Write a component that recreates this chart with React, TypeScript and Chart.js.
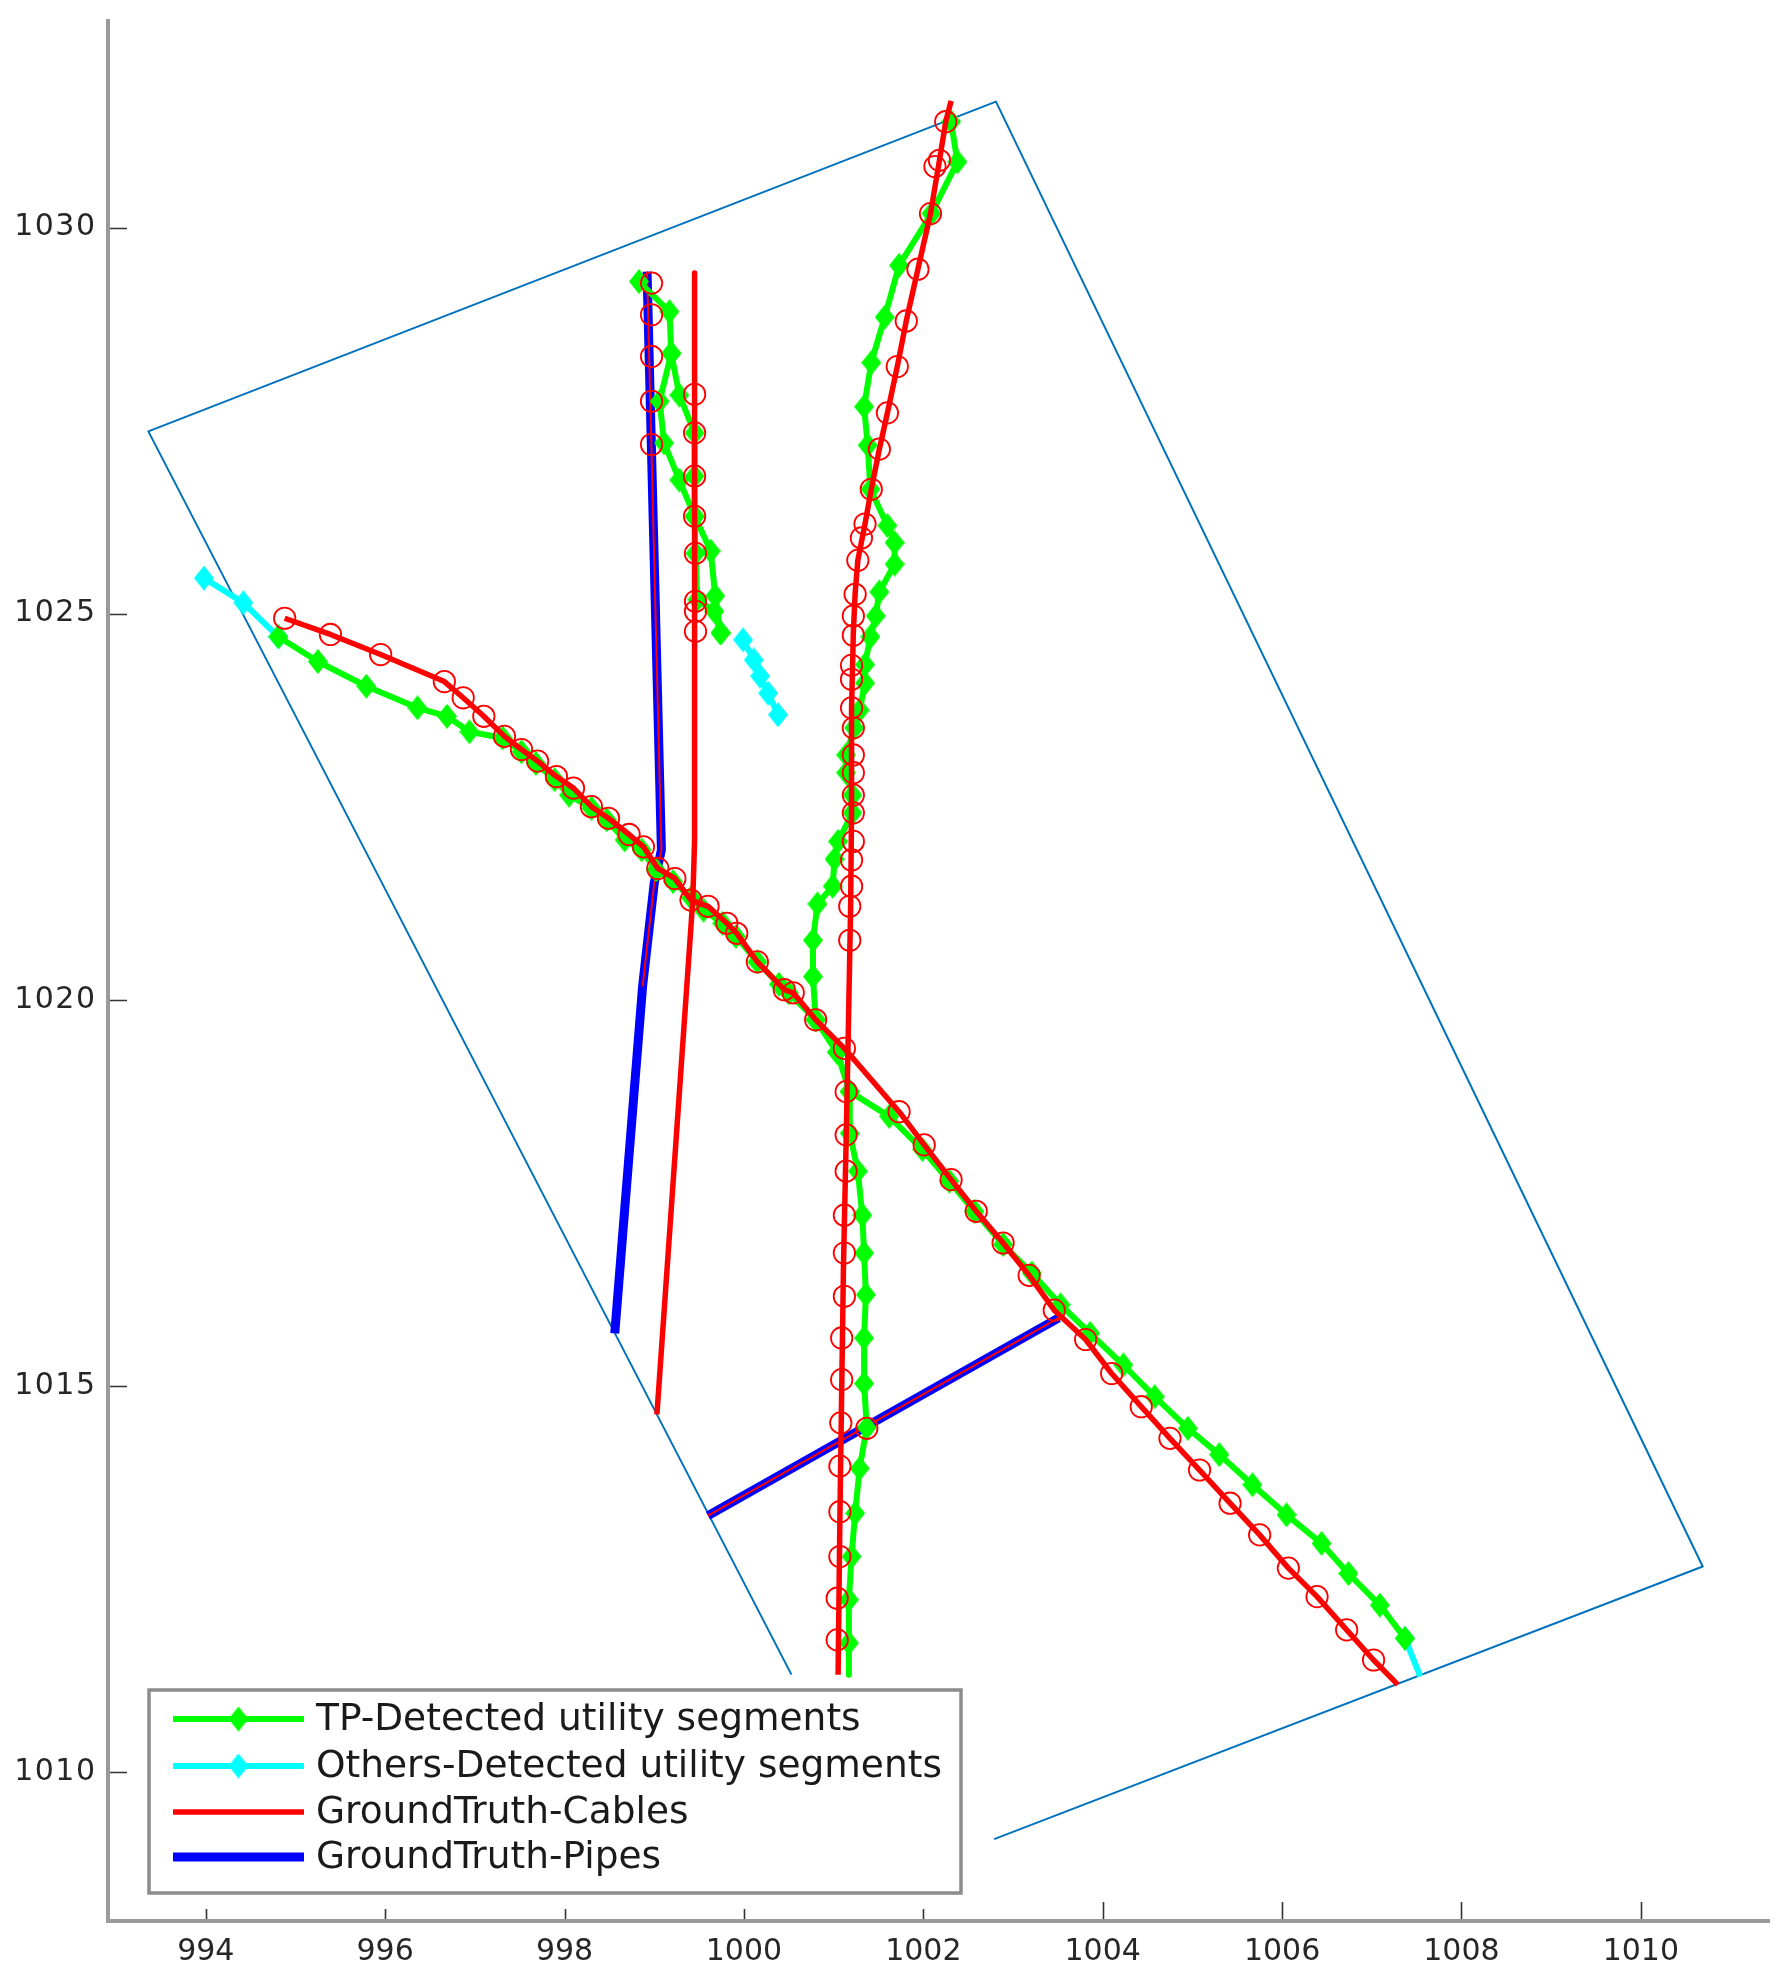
import React, { useEffect, useRef } from "react";
import { Chart, registerables } from "chart.js";

Chart.register(...registerables);

type Pt = [number, number];

// ---------- axes ----------
const X_TICKS = [994, 996, 998, 1000, 1002, 1004, 1006, 1008, 1010];
const Y_TICKS = [1010, 1015, 1020, 1025, 1030];
const X_LIMITS = [992.91, 1011.44];
const Y_LIMITS = [1008.07, 1032.7];

const LEGEND_LABELS = [
  "TP-Detected utility segments",
  "Others-Detected utility segments",
  "GroundTruth-Cables",
  "GroundTruth-Pipes",
];

// ---------- survey area outline ----------
const surveyArea: Pt[] = [
  [1000.53, 1011.26], [993.36, 1027.36], [1002.81, 1031.63], [1010.69, 1012.66], [1002.79, 1009.13],
];

// ---------- others-detected segments ----------
const othersWest: Pt[] = [[993.98, 1025.46], [994.42, 1025.14], [994.81, 1024.7]];
const othersMid: Pt[] = [
  [999.99, 1024.66], [1000.11, 1024.4], [1000.18, 1024.19], [1000.27, 1023.97], [1000.38, 1023.69],
];
const othersEast: Pt[] = [[1007.37, 1011.73], [1007.54, 1011.24]];

// ---------- TP-detected segments ----------
const tpDiagonal: Pt[] = [
  [994.81, 1024.7], [995.25, 1024.38], [995.79, 1024.06], [996.36, 1023.78], [996.69, 1023.67],
  [996.94, 1023.47], [997.31, 1023.39], [997.52, 1023.21], [997.68, 1023.06], [997.89, 1022.85],
  [998.05, 1022.65], [998.3, 1022.48], [998.47, 1022.33], [998.67, 1022.07], [998.86, 1021.94],
  [999.02, 1021.68], [999.21, 1021.53], [999.41, 1021.32], [999.55, 1021.16], [999.76, 1020.99],
  [999.91, 1020.82], [1000.15, 1020.49], [1000.39, 1020.2], [1000.5, 1020.09], [1000.8, 1019.74],
  [1001.04, 1019.32], [1001.18, 1018.81], [1001.62, 1018.49], [1001.99, 1018.06], [1002.29, 1017.65],
  [1002.57, 1017.26], [1002.89, 1016.83], [1003.21, 1016.46], [1003.53, 1016.05], [1003.86, 1015.68],
  [1004.23, 1015.27], [1004.58, 1014.86], [1004.95, 1014.45], [1005.3, 1014.11], [1005.67, 1013.72],
  [1006.05, 1013.33], [1006.44, 1012.96], [1006.74, 1012.57], [1007.09, 1012.16], [1007.37, 1011.73],
];
const tpEast: Pt[] = [
  [1002.31, 1031.37], [1002.38, 1030.85], [1002.09, 1030.18], [1001.73, 1029.51], [1001.57, 1028.84],
  [1001.42, 1028.25], [1001.34, 1027.68], [1001.38, 1027.18], [1001.41, 1026.61], [1001.6, 1026.14],
  [1001.68, 1025.92], [1001.68, 1025.64], [1001.51, 1025.28], [1001.47, 1024.97], [1001.41, 1024.7],
  [1001.35, 1024.34], [1001.35, 1024.1], [1001.29, 1023.75], [1001.23, 1023.52], [1001.14, 1023.17],
  [1001.14, 1022.94], [1001.21, 1022.65], [1001.21, 1022.42], [1001.05, 1022.05], [1001.01, 1021.82],
  [1000.99, 1021.47], [1000.82, 1021.24], [1000.77, 1020.77], [1000.77, 1020.3], [1000.8, 1019.74],
  [1001.04, 1019.32], [1001.18, 1018.81], [1001.18, 1018.27], [1001.27, 1017.78], [1001.32, 1017.21],
  [1001.34, 1016.72], [1001.36, 1016.18], [1001.34, 1015.62], [1001.34, 1015.03], [1001.37, 1014.46],
  [1001.29, 1013.93], [1001.24, 1013.35], [1001.2, 1012.79], [1001.17, 1012.23], [1001.17, 1011.67],
  [1001.17, 1011.26],
];
const tpWestA: Pt[] = [
  [998.83, 1029.3], [999.17, 1028.91], [999.19, 1028.37], [999.06, 1027.75], [999.11, 1027.21],
  [999.28, 1026.73], [999.45, 1026.26], [999.63, 1025.81], [999.68, 1025.23], [999.74, 1024.75],
];
const tpWestB: Pt[] = [
  [999.19, 1028.37], [999.28, 1027.83], [999.45, 1027.34], [999.45, 1026.78], [999.45, 1026.26],
  [999.46, 1025.78], [999.48, 1025.18], [999.67, 1025.03], [999.74, 1024.75],
];

// ---------- ground truth cables ----------
const cableDiagonal: Pt[] = [
  [994.88, 1024.94], [995.39, 1024.73], [995.95, 1024.47], [996.66, 1024.12], [996.87, 1023.91],
  [997.1, 1023.67], [997.33, 1023.41], [997.52, 1023.24], [997.7, 1023.09], [997.91, 1022.89],
  [998.1, 1022.74], [998.3, 1022.5], [998.49, 1022.35], [998.72, 1022.14], [998.88, 1021.98],
  [999.04, 1021.7], [999.23, 1021.57], [999.41, 1021.29], [999.6, 1021.21], [999.81, 1020.99],
  [999.92, 1020.86], [1000.15, 1020.49], [1000.45, 1020.13], [1000.55, 1020.09], [1000.8, 1019.74],
  [1001.12, 1019.37], [1001.73, 1018.55], [1002.01, 1018.12], [1002.31, 1017.67], [1002.59, 1017.26],
  [1002.89, 1016.85], [1003.18, 1016.43], [1003.46, 1015.98], [1003.81, 1015.6], [1004.1, 1015.16],
  [1004.43, 1014.73], [1004.75, 1014.32], [1005.08, 1013.91], [1005.42, 1013.48], [1005.75, 1013.07],
  [1006.07, 1012.64], [1006.39, 1012.27], [1006.72, 1011.84], [1007.02, 1011.45], [1007.29, 1011.13],
];
const cableEast: Pt[] = [
  [1002.31, 1031.64], [1002.25, 1031.37], [1002.18, 1030.87], [1002.08, 1030.18], [1001.94, 1029.46],
  [1001.81, 1028.79], [1001.71, 1028.2], [1001.6, 1027.6], [1001.51, 1027.13], [1001.42, 1026.61],
  [1001.35, 1026.16], [1001.27, 1025.69], [1001.24, 1025.26], [1001.22, 1024.76], [1001.2, 1023.77],
  [1001.2, 1022.46], [1001.19, 1021.22], [1001.16, 1019.35], [1001.14, 1018.2], [1001.11, 1016.56],
  [1001.09, 1014.93], [1001.07, 1013.29], [1001.05, 1011.26],
];
const cableWest: Pt[] = [[999.45, 1029.41], [999.45, 1022.07], [999.43, 1021.29], [999.03, 1014.63]];
const cableInPipe: Pt[] = [[998.92, 1029.43], [999.08, 1021.94], [999.0, 1021.51], [998.87, 1020.17]];

// ---------- matched points on ground truth ----------
const matchesDiagonal: Pt[] = cableDiagonal.slice(0, -1);
const matchesEast: Pt[] = [
  [1002.25, 1031.37], [1002.18, 1030.87], [1002.13, 1030.79], [1002.08, 1030.18], [1001.94, 1029.46],
  [1001.81, 1028.79], [1001.71, 1028.2], [1001.6, 1027.6], [1001.51, 1027.13], [1001.42, 1026.61],
  [1001.35, 1026.16], [1001.31, 1025.98], [1001.27, 1025.69], [1001.24, 1025.25], [1001.22, 1024.97],
  [1001.22, 1024.72], [1001.2, 1024.33], [1001.2, 1024.15], [1001.2, 1023.78], [1001.22, 1023.52],
  [1001.22, 1023.17], [1001.22, 1022.94], [1001.22, 1022.65], [1001.22, 1022.42], [1001.22, 1022.05],
  [1001.2, 1021.81], [1001.2, 1021.47], [1001.18, 1021.21], [1001.18, 1020.77], [1001.14, 1018.81],
  [1001.14, 1018.25], [1001.14, 1017.78], [1001.12, 1017.21], [1001.12, 1016.72], [1001.12, 1016.16],
  [1001.09, 1015.62], [1001.09, 1015.08], [1001.08, 1014.52], [1001.07, 1013.96], [1001.07, 1013.37],
  [1001.07, 1012.79], [1001.04, 1012.25], [1001.04, 1011.71], [1001.37, 1014.45],
];
const matchesWest: Pt[] = [
  [999.45, 1027.84], [999.45, 1027.34], [999.45, 1026.78], [999.45, 1026.26], [999.46, 1025.78],
  [999.46, 1025.16], [999.46, 1025.03], [999.46, 1024.77],
];
const matchesPipe: Pt[] = [
  [998.97, 1029.28], [998.97, 1028.87], [998.97, 1028.33], [998.97, 1027.75], [998.97, 1027.19],
];

// ---------- ground truth pipes ----------
const pipeNorth: Pt[] = [[998.92, 1029.43], [999.08, 1021.94], [999.0, 1021.51], [998.87, 1020.17], [998.56, 1015.68]];
const pipeCross: Pt[] = [[999.6, 1013.32], [1003.51, 1015.88]];

// ---------- styling ----------
const GREEN = "#00ff00";
const CYAN = "#00ffff";
const RED = "#ff0000";
const BLUE = "#0000ff";
const OUTLINE = "#0072bd";

const toXY = (pts: Pt[]) => pts.map(([x, y]) => ({ x, y }));

function makeDiamond(color: string, w: number, h: number) {
  const c = document.createElement("canvas");
  c.width = w;
  c.height = h;
  const g = c.getContext("2d")!;
  g.fillStyle = color;
  g.beginPath();
  g.moveTo(w / 2, 0);
  g.lineTo(w, h / 2);
  g.lineTo(w / 2, h);
  g.lineTo(0, h / 2);
  g.closePath();
  g.fill();
  return c;
}

export default function App() {
  const ref = useRef<HTMLCanvasElement | null>(null);

  useEffect(() => {
    if (!ref.current) return;
    const greenMark = makeDiamond(GREEN, 20, 25);
    const cyanMark = makeDiamond(CYAN, 20, 25);

    const line = (pts: Pt[], color: string, width: number, order: number) => ({
      data: toXY(pts),
      showLine: true,
      borderColor: color,
      backgroundColor: color,
      borderWidth: width,
      pointRadius: 0,
      borderJoinStyle: "round",
      order,
    });
    const detected = (pts: Pt[], color: string, mark: HTMLCanvasElement, order: number, tailless = false) => ({
      data: toXY(pts),
      showLine: true,
      borderColor: color,
      backgroundColor: color,
      borderWidth: 6,
      borderJoinStyle: "round",
      pointStyle: mark,
      pointRadius: (c: any) => (tailless && c.dataIndex === pts.length - 1 ? 0 : 10),
      order,
    });
    const circles = (pts: Pt[]) => ({
      data: toXY(pts),
      showLine: false,
      pointStyle: "circle",
      pointRadius: 10.7,
      pointBorderWidth: 1.8,
      pointBorderColor: RED,
      pointBackgroundColor: "rgba(0,0,0,0)",
      order: 1,
    });

    const decor = {
      id: "matlabDecor",
      afterDraw(chart: any) {
        const ctx: CanvasRenderingContext2D = chart.ctx;
        const { left, right, top, bottom } = chart.chartArea;
        const xs = chart.scales.x;
        const ys = chart.scales.y;
        ctx.save();
        // axis lines
        ctx.strokeStyle = "#9a9a9a";
        ctx.lineWidth = 4;
        ctx.beginPath();
        ctx.moveTo(left, top);
        ctx.lineTo(left, bottom);
        ctx.lineTo(right, bottom);
        ctx.stroke();
        // inward ticks
        ctx.strokeStyle = "#333333";
        ctx.lineWidth = 1.6;
        ctx.beginPath();
        for (const v of Y_TICKS) {
          const p = Math.round(ys.getPixelForValue(v)) + 0.5;
          ctx.moveTo(left + 2, p);
          ctx.lineTo(left + 19, p);
        }
        for (const v of X_TICKS) {
          const p = Math.round(xs.getPixelForValue(v)) + 0.5;
          const len = p < 965 ? 12 : 19;
          ctx.moveTo(p, bottom - 2);
          ctx.lineTo(p, bottom - len);
        }
        ctx.stroke();
        // y tick labels (slightly spaced digits)
        ctx.fillStyle = "#262626";
        ctx.font = "30px 'DejaVu Sans'";
        ctx.textAlign = "right";
        ctx.textBaseline = "middle";
        (ctx as any).letterSpacing = "1.5px";
        for (const v of Y_TICKS) {
          ctx.fillText(String(v), 96.5, ys.getPixelForValue(v));
        }
        (ctx as any).letterSpacing = "0px";

        // legend box
        const bx = 149, by = 1690, bw = 812, bh = 203;
        ctx.fillStyle = "#ffffff";
        ctx.fillRect(bx, by, bw, bh);
        ctx.strokeStyle = "#8c8c8c";
        ctx.lineWidth = 3.5;
        ctx.strokeRect(bx, by, bw, bh);
        const rows = [1719, 1766, 1812, 1857];
        const colors = [GREEN, CYAN, RED, BLUE];
        const widths = [6, 6, 5.5, 9];
        const marks = [greenMark, cyanMark, null, null];
        const x0 = 173, x1 = 304;
        ctx.font = "37.5px 'DejaVu Sans'";
        ctx.textBaseline = "middle";
        ctx.textAlign = "left";
        rows.forEach((y, i) => {
          ctx.strokeStyle = colors[i];
          ctx.lineWidth = widths[i];
          ctx.lineCap = "butt";
          ctx.beginPath();
          ctx.moveTo(x0, y);
          ctx.lineTo(x1, y);
          ctx.stroke();
          const m = marks[i];
          if (m) {
            ctx.drawImage(m, (x0 + x1) / 2 - m.width / 2, y - m.height / 2, m.width, m.height);
          }
          ctx.fillStyle = "#1a1a1a";
          ctx.fillText(LEGEND_LABELS[i], 316, y + 1);
        });
        ctx.restore();
      },
    };

    const chart = new Chart(ref.current, {
      type: "scatter",
      data: {
        datasets: [
          line(surveyArea, OUTLINE, 2, 10),
          line(pipeNorth, BLUE, 9, 8),
          line(pipeCross, BLUE, 9, 8),
          line(cableInPipe, RED, 2, 7),
          line(pipeCross, RED, 2, 7),
          detected(othersWest, CYAN, cyanMark, 6),
          detected(othersMid, CYAN, cyanMark, 6),
          detected(othersEast, CYAN, cyanMark, 6, true),
          detected(tpDiagonal, GREEN, greenMark, 5),
          detected(tpEast, GREEN, greenMark, 5, true),
          detected(tpWestA, GREEN, greenMark, 5),
          detected(tpWestB, GREEN, greenMark, 5),
          line(cableDiagonal, RED, 5.5, 3),
          line(cableEast, RED, 5.5, 3),
          line(cableWest, RED, 5.5, 3),
          circles(matchesDiagonal),
          circles(matchesEast),
          circles(matchesWest),
          circles(matchesPipe),
        ] as any,
      },
      options: {
        animation: false,
        responsive: false,
        devicePixelRatio: 1,
        events: [],
        layout: { padding: { left: 0, right: 19, top: 19, bottom: 0 } },
        plugins: { legend: { display: false }, tooltip: { enabled: false } },
        scales: {
          x: {
            type: "linear",
            position: "bottom",
            min: X_LIMITS[0],
            max: X_LIMITS[1],
            afterFit: (s: any) => {
              s.height = 63;
              s.paddingLeft = 0;
              s.paddingRight = 0;
            },
            afterBuildTicks: (s: any) => {
              s.ticks = X_TICKS.map((value) => ({ value }));
            },
            grid: { display: false, drawTicks: false },
            border: { display: false },
            ticks: {
              autoSkip: false,
              maxRotation: 0,
              minRotation: 0,
              padding: 13,
              color: "#262626",
              font: { family: "'DejaVu Sans'", size: 30 },
              callback: (v: any) => String(v),
            },
          },
          y: {
            type: "linear",
            min: Y_LIMITS[0],
            max: Y_LIMITS[1],
            afterFit: (s: any) => {
              s.width = 108;
              s.paddingTop = 0;
              s.paddingBottom = 0;
            },
            afterBuildTicks: (s: any) => {
              s.ticks = Y_TICKS.map((value) => ({ value }));
            },
            grid: { display: false, drawTicks: false },
            border: { display: false },
            ticks: { display: false },
          },
        },
      } as any,
      plugins: [decor as any],
    });
    return () => chart.destroy();
  }, []);

  return (
    <div style={{ position: "absolute", left: 0, top: 0, width: 1789, height: 1984, background: "#fff" }}>
      <canvas ref={ref} width={1789} height={1984} style={{ width: 1789, height: 1984, display: "block" }} />
    </div>
  );
}
